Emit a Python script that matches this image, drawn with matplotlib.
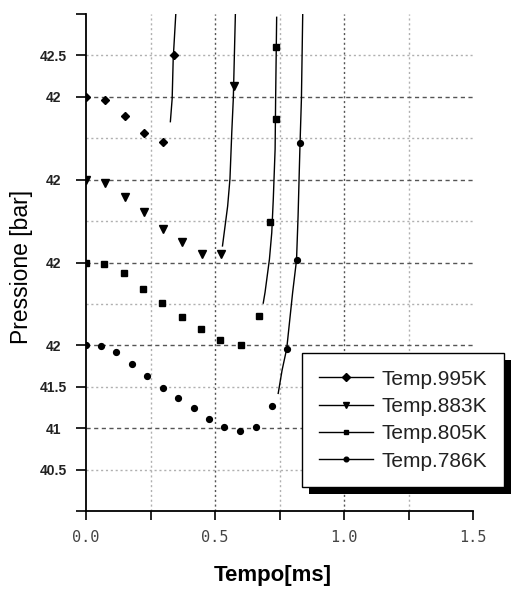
import matplotlib
matplotlib.use('Agg')
import matplotlib.pyplot as plt
from matplotlib.lines import Line2D
from matplotlib.patches import Rectangle

# ---------------- data ----------------
series_labels = ['Temp.995K', 'Temp.883K', 'Temp.805K', 'Temp.786K']

# sampled points (markers)
t995 = [0.0, 0.075, 0.151, 0.225, 0.298, 0.342]
p995 = [45.0, 44.96, 44.77, 44.56, 44.45, 45.50]
t883 = [0.0, 0.075, 0.151, 0.225, 0.298, 0.373, 0.448, 0.523, 0.575]
p883 = [44.0, 43.96, 43.79, 43.61, 43.40, 43.25, 43.10, 43.10, 45.13]
t805 = [0.0, 0.071, 0.146, 0.221, 0.296, 0.371, 0.446, 0.521, 0.600, 0.671, 0.713, 0.735, 0.735]
p805 = [43.0, 42.98, 42.87, 42.68, 42.51, 42.34, 42.20, 42.06, 42.01, 42.36, 43.49, 44.73, 45.60]
t786 = [0.0, 0.057, 0.116, 0.177, 0.236, 0.297, 0.358, 0.419, 0.478, 0.536, 0.598, 0.659, 0.720, 0.778, 0.816, 0.829]
p786 = [42.0, 41.99, 41.92, 41.78, 41.63, 41.49, 41.36, 41.24, 41.11, 41.02, 40.96, 41.02, 41.27, 41.96, 43.03, 44.44]

# steep pressure rise (traced lines)
r995_t = [0.327, 0.334, 0.338, 0.348]
r995_p = [44.70, 44.98, 45.46, 46.0]
r883_t = [0.529, 0.539, 0.549, 0.558, 0.565, 0.571, 0.579]
r883_p = [43.20, 43.44, 43.68, 44.01, 44.57, 44.98, 46.0]
r805_t = [0.687, 0.694, 0.711, 0.720, 0.726, 0.733, 0.735, 0.739]
r805_p = [42.51, 42.64, 43.04, 43.36, 43.77, 44.37, 44.98, 45.96]
r786_t = [0.745, 0.760, 0.778, 0.801, 0.816, 0.822, 0.829, 0.835, 0.840]
r786_p = [41.42, 41.70, 41.96, 42.64, 43.03, 43.56, 44.37, 44.98, 46.0]

ytick_vals = [40, 40.5, 41, 41.5, 42, 43, 44, 45, 45.5, 46]
ytick_labels = ['', '40.5', '41', '41.5', '42', '42', '42', '42', '42.5', '']
xtick_vals = [0.0, 0.5, 1.0, 1.5]
xtick_labels = ['0.0', '0.5', '1.0', '1.5']

# ---------------- styles ----------------
markers = ['D', 'v', 's', 'o']
msizes = [4.5, 6, 4.2, 4.2]
hgrid_dark = [41, 42, 43, 44, 45]
hgrid_light = [40.5, 41.5, 42.5, 43.5, 44.5, 45.5]
vgrid_dark = [0.5, 1.0]
vgrid_light = [0.25, 0.75, 1.25]

W, H = 512, 590
fig = plt.figure(figsize=(W / 100, H / 100), dpi=100)
ax = fig.add_axes([86 / W, (H - 511) / H, 387 / W, 497 / H])
ax.set_xlim(0, 1.5)
ax.set_ylim(40, 46)

for y in hgrid_light:
    ax.axhline(y, color='#b0b0b0', lw=1, ls=(0, (1.5, 2)), zorder=0)
for x in vgrid_light:
    ax.axvline(x, color='#b0b0b0', lw=1, ls=(0, (1.5, 2)), zorder=0)
for y in hgrid_dark:
    ax.axhline(y, color='#555555', lw=1, ls=(0, (3, 2.5)), zorder=0)
for x in vgrid_dark:
    ax.axvline(x, color='#555555', lw=1, ls=(0, (1.5, 2)), zorder=0)

pts = [(t995, p995), (t883, p883), (t805, p805), (t786, p786)]
rises = [(r995_t, r995_p), (r883_t, r883_p), (r805_t, r805_p), (r786_t, r786_p)]
handles = []
for (t, p), (rt, rp), m, ms, lab in zip(pts, rises, markers, msizes, series_labels):
    ax.plot(t, p, ls='none', marker=m, ms=ms, color='black', zorder=3)
    ax.plot(rt, rp, '-', color='black', lw=1.0, zorder=3)
    handles.append(Line2D([], [], color='black', lw=1, marker=m, ms=ms * 0.8, label=lab))

for s in ['top', 'right']:
    ax.spines[s].set_visible(False)
for s in ['left', 'bottom']:
    ax.spines[s].set_linewidth(1.3)
    ax.spines[s].set_color('black')

ax.set_yticks(ytick_vals)
ax.set_yticklabels(ytick_labels, fontfamily='Liberation Sans', fontweight='bold', fontsize=10, color='#222222')
ax.tick_params(axis='y', length=7.5, width=1.2, pad=16)
for lab in ax.get_yticklabels():
    lab.set_horizontalalignment('center')

ax.set_xticks(xtick_vals)
ax.set_xticklabels(xtick_labels, fontfamily='DejaVu Sans Mono', fontsize=11, color='#444444')
ax.set_xticks(vgrid_light, minor=True)
ax.tick_params(axis='x', which='both', length=6.5, width=1.2, pad=7)

ax.set_xlabel('Tempo[ms]', fontfamily='Liberation Sans', fontweight='bold', fontsize=16)
ax.xaxis.set_label_coords((272.5 - 86) / 387, -0.108)
ax.set_ylabel('Pressione [bar]', fontfamily='Liberation Sans', fontsize=16.5)
ax.yaxis.set_label_coords((33 - 86) / 387, (511 - 267) / 497)

leg = fig.legend(handles=handles, loc='upper left',
                 bbox_to_anchor=(302 / W, 1 - 353 / H), bbox_transform=fig.transFigure,
                 prop={'family': 'Liberation Sans', 'size': 15}, frameon=True, fancybox=False,
                 handlelength=2.6, handletextpad=0.4, labelspacing=0.4, borderpad=0.8,
                 borderaxespad=0, framealpha=1, facecolor='white')
leg.get_frame().set_edgecolor('black')
leg.get_frame().set_linewidth(1.0)
for txt in leg.get_texts():
    txt.set_color('#222222')
leg.set_zorder(6)

fig.canvas.draw()
bb = leg.get_window_extent()
shadow = Rectangle((bb.x0 + 7, bb.y0 - 7), bb.width, bb.height, transform=None,
                   facecolor='black', edgecolor='none', zorder=5)
fig.patches.append(shadow)
shadow.set_figure(fig)

fig.savefig('out.png', dpi=100)
